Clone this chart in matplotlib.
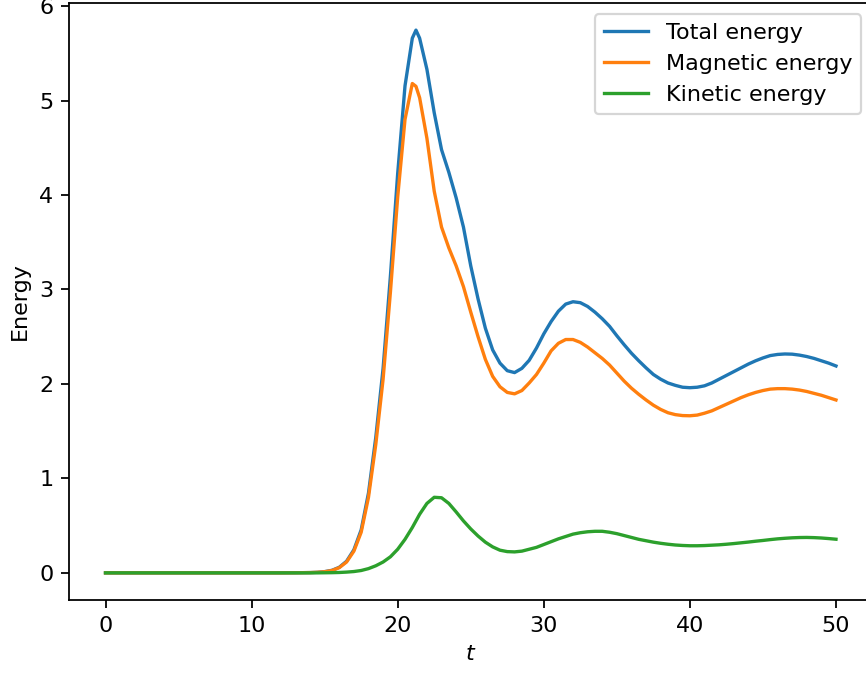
import matplotlib
matplotlib.use("Agg")
import matplotlib.pyplot as plt

# Time samples (coarse while everything is at rest, finer once the growth starts)
t = [0, 5, 10, 12, 13, 13.5,
     14, 14.5, 15, 15.5, 16, 16.5, 17, 17.5, 18, 18.5, 19, 19.5, 20, 20.5, 21,
     21.25,
     21.5, 22, 22.5, 23, 23.5, 24, 24.5, 25, 25.5, 26,
     26.5, 27, 27.5, 28, 28.5, 29, 29.5, 30, 30.5, 31,
     31.5, 32, 32.5, 33, 33.5, 34, 34.5, 35, 35.5, 36,
     36.5, 37, 37.5, 38, 38.5, 39, 39.5, 40, 40.5, 41,
     41.5, 42, 42.5, 43, 43.5, 44, 44.5, 45, 45.5, 46,
     46.5, 47, 47.5, 48, 48.5, 49, 49.5, 50]

total = [0, 0, 0, 0, 0.001, 0.002,
         0.003, 0.006, 0.013, 0.027, 0.059, 0.123, 0.244, 0.455, 0.845, 1.435,
         2.165, 3.14, 4.23, 5.155, 5.66,
         5.745,
         5.66, 5.33, 4.87, 4.48, 4.24, 3.97, 3.66, 3.25, 2.90, 2.59,
         2.36, 2.22, 2.14, 2.12, 2.165, 2.25, 2.38, 2.53, 2.66, 2.77,
         2.845, 2.87, 2.86, 2.82, 2.76, 2.69, 2.61, 2.51, 2.415, 2.325,
         2.245, 2.17, 2.10, 2.05, 2.01, 1.985, 1.965, 1.96, 1.965, 1.98,
         2.01, 2.05, 2.09, 2.13, 2.17, 2.21, 2.245, 2.275, 2.30, 2.312,
         2.317, 2.315, 2.305, 2.29, 2.27, 2.245, 2.22, 2.19]

magnetic = [0, 0, 0, 0, 0.001, 0.002,
            0.003, 0.006, 0.012, 0.025, 0.055, 0.115, 0.23, 0.43, 0.80, 1.36,
            2.05, 2.97, 3.98, 4.80, 5.18,
            5.15,
            5.03, 4.60, 4.04, 3.66, 3.44, 3.25, 3.03, 2.76, 2.50, 2.26,
            2.08, 1.97, 1.91, 1.895, 1.93, 2.01, 2.10, 2.22, 2.35, 2.43,
            2.47, 2.47, 2.44, 2.39, 2.33, 2.27, 2.20, 2.115, 2.03, 1.955,
            1.89, 1.83, 1.775, 1.73, 1.695, 1.675, 1.665, 1.663, 1.67, 1.69,
            1.715, 1.75, 1.785, 1.82, 1.855, 1.885, 1.91, 1.93, 1.945, 1.95,
            1.95, 1.945, 1.935, 1.92, 1.90, 1.88, 1.855, 1.83]

kinetic = [0, 0, 0, 0, 0, 0,
           0, 0, 0.001, 0.002, 0.004, 0.008, 0.014, 0.025, 0.045, 0.075,
           0.115, 0.17, 0.25, 0.355, 0.48,
           0.55,
           0.62, 0.735, 0.80, 0.795, 0.735, 0.645, 0.55, 0.465, 0.39, 0.325,
           0.275, 0.24, 0.225, 0.222, 0.23, 0.25, 0.27, 0.30, 0.33, 0.36,
           0.385, 0.41, 0.425, 0.435, 0.44, 0.44, 0.43, 0.415, 0.395, 0.375,
           0.355, 0.34, 0.325, 0.313, 0.303, 0.295, 0.29, 0.287, 0.287, 0.289,
           0.293, 0.297, 0.303, 0.31, 0.318, 0.326, 0.335, 0.343, 0.352, 0.36,
           0.366, 0.371, 0.374, 0.375, 0.373, 0.369, 0.363, 0.356]

fig = plt.figure(figsize=(866 / 160, 673 / 160), dpi=160)
ax = fig.add_axes([69 / 866, 73 / 673, 803.5 / 866, 597 / 673])

ax.plot(t, total, label="Total energy")
ax.plot(t, magnetic, label="Magnetic energy")
ax.plot(t, kinetic, label="Kinetic energy")

ax.set_xlabel("$t$")
ax.set_ylabel("Energy")
ax.legend(loc="upper right")

fig.savefig("out.png", dpi=160)
